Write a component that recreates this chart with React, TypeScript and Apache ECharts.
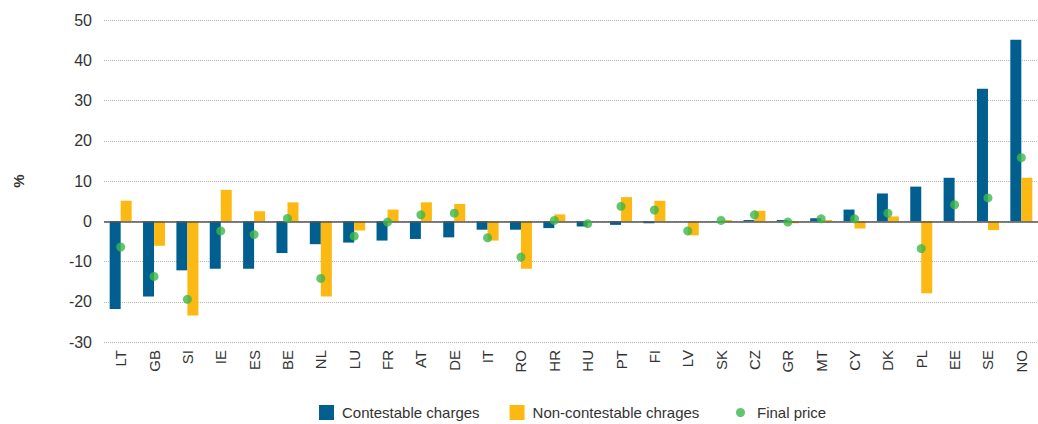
import React, { useEffect, useRef } from "react";
import * as echarts from "echarts";

const categories = ["LT","GB","SI","IE","ES","BE","NL","LU","FR","AT","DE","IT","RO","HR","HU","PT","FI","LV","SK","CZ","GR","MT","CY","DK","PL","EE","SE","NO"];
const contestable = [-21.8,-18.7,-12.2,-11.8,-11.8,-7.9,-5.7,-5.3,-4.8,-4.4,-4.0,-2.1,-2.1,-1.7,-1.3,-0.9,-0.5,0,0,0.3,0.3,0.75,2.9,6.9,8.6,10.8,32.9,45.1];
const nonContestable = [5.1,-6.1,-23.4,7.8,2.5,4.7,-18.7,-2.3,2.9,4.7,4.3,-4.8,-11.8,1.7,0,6.0,5.1,-3.5,0.3,2.6,-0.5,0.3,-1.8,1.2,-17.9,0,-2.2,10.8];
const finalPrice = [-6.4,-13.7,-19.4,-2.4,-3.3,0.7,-14.2,-3.7,-0.2,1.6,2.0,-4.1,-8.9,0.2,-0.6,3.7,2.8,-2.4,0.2,1.6,-0.2,0.6,0.6,2.0,-6.8,4.1,5.8,15.8];

const FONT = "Liberation Sans, Arial, sans-serif";

export default function App() {
  const ref = useRef<HTMLDivElement>(null);
  useEffect(() => {
    if (!ref.current) return;
    document.body.style.margin = "0";
    const chart = echarts.init(ref.current, undefined, { renderer: "svg" });
    chart.setOption({
      animation: false,
      textStyle: { fontFamily: FONT },
      grid: { left: 104, right: 0, top: 20, bottom: 82 },
      legend: [
        {
          data: [
            { name: "Contestable charges", icon: "rect" },
            { name: "Non-contestable chrages", icon: "rect" },
          ],
          left: 319,
          top: 405,
          padding: 0,
          itemWidth: 15,
          itemHeight: 15,
          itemGap: 30,
          textStyle: { fontSize: 15, color: "#333", fontFamily: FONT, padding: [0, 0, 0, 3] },
        },
        {
          data: [{ name: "Final price", icon: "circle" }],
          left: 736,
          top: 405,
          padding: 0,
          itemWidth: 9,
          itemHeight: 9,
          textStyle: { fontSize: 15, color: "#333", fontFamily: FONT, padding: [0, 0, 0, 7] },
        },
      ],
      graphic: [
        {
          type: "text",
          x: 18,
          y: 181,
          rotation: Math.PI / 2,
          style: {
            text: "%",
            fontSize: 15,
            fontWeight: "bold",
            fill: "#333",
            fontFamily: FONT,
            align: "center",
            verticalAlign: "middle",
          },
        },
      ],
      xAxis: {
        type: "category",
        data: categories,
        position: "bottom",
        axisLine: { show: false, onZero: false },
        axisTick: { show: false },
        axisLabel: { rotate: 90, fontSize: 15, color: "#333", margin: 8, fontFamily: FONT },
      },
      yAxis: {
        type: "value",
        min: -30,
        max: 50,
        interval: 10,
        axisLine: { show: false },
        axisTick: { show: false },
        axisLabel: { fontSize: 16, color: "#333", margin: 12, fontFamily: FONT },
        splitLine: { lineStyle: { type: "dotted", color: "#b5b5b5", width: 1 } },
      },
      series: [
        {
          name: "Contestable charges",
          type: "bar",
          data: contestable,
          barWidth: 11,
          barGap: "0%",
          itemStyle: { color: "#005F8E" },
          markLine: {
            silent: true,
            symbol: "none",
            label: { show: false },
            lineStyle: { type: "solid", color: "#555", width: 1.5 },
            data: [{ yAxis: 0 }],
          },
        },
        {
          name: "Non-contestable chrages",
          type: "bar",
          data: nonContestable,
          barWidth: 11,
          barGap: "0%",
          itemStyle: { color: "#FDB913" },
        },
        {
          name: "Final price",
          type: "scatter",
          data: finalPrice,
          symbolSize: 9,
          itemStyle: { color: "#3CB64A" },
          z: 5,
        },
      ],
    });
    return () => chart.dispose();
  }, []);
  return <div ref={ref} style={{ width: 1038, height: 424 }} />;
}
